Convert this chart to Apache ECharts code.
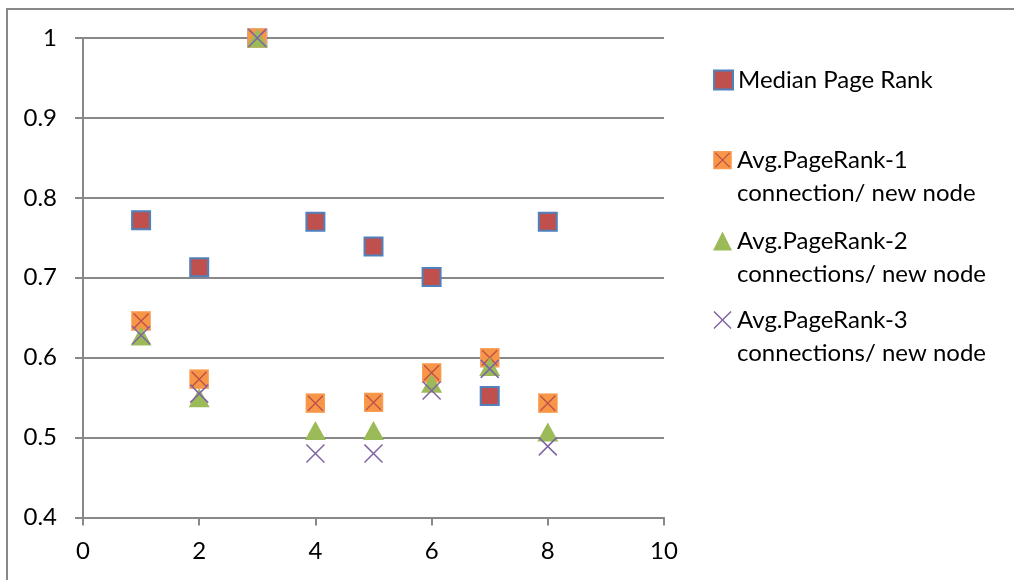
<!DOCTYPE html>
<html>
<head>
<meta charset="utf-8">
<script src="https://cdn.jsdelivr.net/npm/echarts@6/dist/echarts.min.js"></script>
<style>
html,body{margin:0;padding:0;background:#fff;}
#chart{width:1014px;height:580px;}
</style>
</head>
<body>
<div id="chart"></div>
<script>
// ---- data ----
const xValues = [1, 2, 3, 4, 5, 6, 7, 8];
const medianPageRank = [0.772, 0.713, 1.0, 0.770, 0.739, 0.701, 0.552, 0.770];
const avgPageRank1 = [0.646, 0.573, 1.0, 0.543, 0.544, 0.581, 0.600, 0.543];
const avgPageRank2 = [0.627, 0.550, 1.0, 0.509, 0.509, 0.568, 0.589, 0.507];
const avgPageRank3 = [0.628, 0.555, 1.0, 0.480, 0.480, 0.559, 0.586, 0.489];
const seriesNames = [
  'Median Page Rank',
  'Avg.PageRank-1\nconnection/ new node',
  'Avg.PageRank-2\nconnections/ new node',
  'Avg.PageRank-3\nconnections/ new node'
];
const yTicks = [0.4, 0.5, 0.6, 0.7, 0.8, 0.9, 1];
const xTicks = [0, 2, 4, 6, 8, 10];

function pairs(ys) { return xValues.map((x, i) => [x, ys[i]]); }
function svgUrl(svg) { return 'image://data:image/svg+xml;charset=utf-8,' + encodeURIComponent(svg); }

const squareX = svgUrl("<svg xmlns='http://www.w3.org/2000/svg' width='40' height='40' viewBox='0 0 20 20'><rect x='0.4' y='0.4' width='19.2' height='19.2' fill='#F79646' stroke='#F9AE75' stroke-width='0.8'/><path d='M2.5 2.5L17.5 17.5M17.5 2.5L2.5 17.5' stroke='#C0504D' stroke-width='1.4' fill='none'/></svg>");
const crossX = svgUrl("<svg xmlns='http://www.w3.org/2000/svg' width='40' height='40' viewBox='0 0 20 20'><path d='M1 1L19 19M19 1L1 19' stroke='#8064A2' stroke-width='1.5' fill='none'/></svg>");

const FONT = 'Lato';
const FS = 24;
const gridColor = '#888888';

const chart = echarts.init(document.getElementById('chart'));

function legendFor(name, top, twoLine) {
  return {
    left: 713, top: top, orient: 'vertical', padding: 0,
    itemWidth: 19, itemHeight: 19, itemGap: 0, selectedMode: false,
    data: [name],
    formatter: twoLine ? (n => '\n' + n) : (n => n),
    textStyle: {
      fontFamily: FONT, fontSize: FS, color: '#000',
      lineHeight: 33
    }
  };
}

chart.setOption({
  animation: false,
  backgroundColor: '#fff',
  grid: { left: 83, right: 350, top: 38, bottom: 62.5, containLabel: false },
  graphic: [{
    type: 'rect', silent: true,
    shape: { x: 7, y: 9, width: 1200, height: 900 },
    style: { fill: 'none', stroke: gridColor, lineWidth: 2 }
  }],
  legend: [
    legendFor(seriesNames[0], 63.5, false),
    legendFor(seriesNames[1], 110.5, true),
    legendFor(seriesNames[2], 191.5, true),
    legendFor(seriesNames[3], 270.5, true)
  ],
  xAxis: {
    type: 'value', min: xTicks[0], max: xTicks[xTicks.length - 1], interval: 2,
    axisLine: { show: true, lineStyle: { color: gridColor, width: 2 } },
    axisTick: { show: true, length: 8, lineStyle: { color: gridColor, width: 2 } },
    axisLabel: { fontFamily: FONT, fontSize: FS, color: '#000', margin: 22 },
    splitLine: { show: false }
  },
  yAxis: {
    type: 'value', min: yTicks[0], max: yTicks[yTicks.length - 1], interval: 0.1,
    axisLine: { show: true, lineStyle: { color: gridColor, width: 2 } },
    axisTick: { show: true, length: 8, lineStyle: { color: gridColor, width: 2 } },
    axisLabel: { fontFamily: FONT, fontSize: FS, color: '#000', margin: 26,
      formatter: v => String(Math.round(v * 10) / 10) },
    splitLine: { show: true, lineStyle: { color: gridColor, width: 2 } }
  },
  series: [
    {
      name: seriesNames[0], type: 'scatter', data: pairs(medianPageRank),
      symbol: 'rect', symbolSize: 18,
      itemStyle: { color: '#C0504D', borderColor: '#4F81BD', borderWidth: 2, opacity: 1 }
    },
    {
      name: seriesNames[1], type: 'scatter', data: pairs(avgPageRank1),
      symbol: squareX, symbolSize: 20,
      itemStyle: { color: '#F79646', opacity: 1 }
    },
    {
      name: seriesNames[2], type: 'scatter', data: pairs(avgPageRank2),
      symbol: 'triangle', symbolSize: [21, 19],
      itemStyle: { color: '#9BBB59', opacity: 1 }
    },
    {
      name: seriesNames[3], type: 'scatter', data: pairs(avgPageRank3),
      symbol: crossX, symbolSize: 20,
      itemStyle: { color: '#8064A2', opacity: 1 }
    }
  ]
});
</script>
</body>
</html>
